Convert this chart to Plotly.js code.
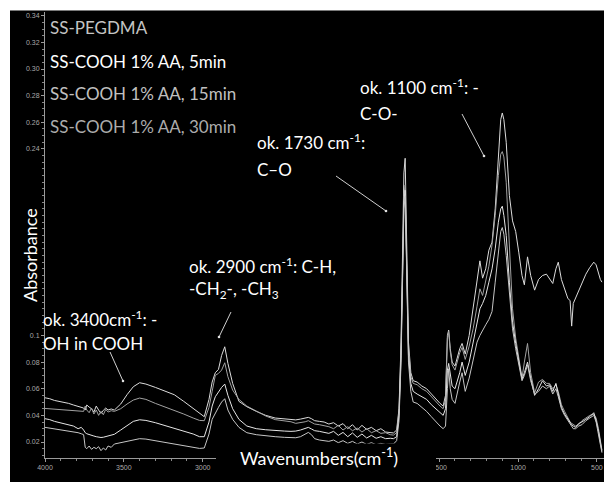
<!DOCTYPE html>
<html>
<head>
<meta charset="utf-8">
<script src="https://cdn.plot.ly/plotly-3.0.1.min.js"></script>
<style>
  html, body { margin: 0; padding: 0; background: #ffffff; width: 604px; height: 482px; overflow: hidden; }
  #topline { position: absolute; left: 10px; top: 10px; width: 594px; height: 1px; background: #7a7a7a; }
  #chart { position: absolute; left: 10px; top: 11px; width: 594px; height: 471px; background: #000; }
</style>
</head>
<body>
<div id="topline"></div>
<div id="chart"></div>
<script>
// ---------------- data ----------------
const wavenumbers = [
  4000, 3970, 3940, 3910, 3880, 3850, 3820, 3790, 3770, 3755, 3745, 3735, 3720, 3705, 3690, 3675, 3660, 3645, 3630, 3615, 3600, 3580, 3560,
  3520, 3480, 3440, 3400, 3360, 3300, 3240, 3180, 3120, 3060, 3020,
  2990, 2960, 2940, 2920, 2900, 2880, 2860, 2840, 2810, 2770, 2720, 2660, 2600, 2540, 2480, 2440,
  2410, 2380, 2350, 2330, 2310, 2290, 2260, 2230, 2200, 2170, 2140, 2110, 2080, 2050, 2020, 1990, 1960, 1930, 1900, 1870, 1840, 1810, 1790,
  1770, 1755, 1742, 1732, 1724, 1716, 1706, 1695, 1680, 1665, 1640, 1610, 1580, 1550, 1520, 1495, 1475, 1460,
  1448, 1440, 1430, 1418, 1400, 1385, 1370, 1355, 1335, 1310, 1285, 1260, 1242, 1225, 1205, 1185, 1165, 1145, 1125, 1110, 1100, 1090, 1075, 1055, 1035, 1015,
  995, 975, 960, 940, 920, 895, 870, 845, 820, 800, 780, 760, 745, 725, 705, 685, 670, 660, 650, 635, 615, 595, 570, 545, 520, 505, 490, 478, 468
];

const absPEGDMA = [
  0.0532, 0.0525, 0.0512, 0.0505, 0.0498, 0.0490, 0.0478, 0.0470, 0.0462, 0.0455, 0.0440, 0.0478, 0.0462, 0.0450, 0.0425, 0.0470, 0.0440, 0.0415, 0.0438, 0.0455, 0.0440, 0.0448, 0.0440,
  0.0485, 0.0555, 0.0615, 0.0645, 0.0635, 0.0610, 0.0585, 0.0555, 0.0505, 0.0450, 0.0412,
  0.0390, 0.0520, 0.0650, 0.0720, 0.0745, 0.0850, 0.0915, 0.0790, 0.0640, 0.0505, 0.0465, 0.0430, 0.0400, 0.0380, 0.0372, 0.0368,
  0.0366, 0.0372, 0.0378, 0.0385, 0.0375, 0.0360, 0.0355, 0.0350, 0.0335, 0.0345, 0.0320, 0.0338, 0.0300, 0.0330, 0.0290, 0.0325, 0.0295, 0.0310, 0.0285, 0.0300, 0.0275, 0.0270, 0.0268,
  0.0290, 0.0450, 0.0950, 0.1700, 0.2220, 0.2330, 0.1700, 0.0950, 0.0720, 0.0660, 0.0650, 0.0620, 0.0600, 0.0560, 0.0520, 0.0490, 0.0470, 0.0550,
  0.1000, 0.1040, 0.0900, 0.0800, 0.0770, 0.0830, 0.0900, 0.0940, 0.0860, 0.1000, 0.1200, 0.1420, 0.1560, 0.1430, 0.1500, 0.1640, 0.1700, 0.1950, 0.2380, 0.2620, 0.2670, 0.2620, 0.2450, 0.2050, 0.1860, 0.1780,
  0.1620, 0.1450, 0.1380, 0.1590, 0.1450, 0.1340, 0.1420, 0.1450, 0.1460, 0.1420, 0.1390, 0.1500, 0.1550, 0.1420, 0.1340, 0.1280, 0.1260, 0.1070, 0.1240, 0.1280, 0.1340, 0.1400, 0.1460, 0.1510, 0.1550, 0.1530, 0.1460, 0.1420, 0.1400
];

const absAA5 = [
  0.0452, 0.0450, 0.0448, 0.0445, 0.0443, 0.0440, 0.0438, 0.0435, 0.0432, 0.0430, 0.0470, 0.0440, 0.0420, 0.0455, 0.0410, 0.0440, 0.0400, 0.0430, 0.0405, 0.0445, 0.0425, 0.0435, 0.0430,
  0.0450, 0.0485, 0.0515, 0.0530, 0.0520, 0.0490, 0.0465, 0.0440, 0.0410, 0.0380, 0.0362,
  0.0360, 0.0460, 0.0580, 0.0700, 0.0715, 0.0740, 0.0795, 0.0690, 0.0590, 0.0520, 0.0470, 0.0430, 0.0395, 0.0368, 0.0358, 0.0352,
  0.0340, 0.0345, 0.0352, 0.0360, 0.0345, 0.0335, 0.0330, 0.0322, 0.0315, 0.0300, 0.0325, 0.0290, 0.0315, 0.0285, 0.0305, 0.0275, 0.0300, 0.0270, 0.0285, 0.0265, 0.0270, 0.0255, 0.0252,
  0.0270, 0.0430, 0.0900, 0.1600, 0.2050, 0.2130, 0.1600, 0.0900, 0.0690, 0.0640, 0.0630, 0.0600, 0.0580, 0.0540, 0.0500, 0.0470, 0.0450, 0.0520,
  0.0980, 0.1030, 0.0880, 0.0780, 0.0740, 0.0800, 0.0870, 0.0910, 0.0820, 0.0920, 0.1050, 0.1220, 0.1350, 0.1300, 0.1400, 0.1520, 0.1680, 0.1900, 0.2200, 0.2360, 0.2380, 0.2340, 0.2150, 0.1700, 0.1200, 0.0980,
  0.0820, 0.0680, 0.0800, 0.0940, 0.0720, 0.0570, 0.0650, 0.0670, 0.0640, 0.0640, 0.0600, 0.0630, 0.0580, 0.0480, 0.0430, 0.0380, 0.0350, 0.0340, 0.0330, 0.0320, 0.0330, 0.0360, 0.0380, 0.0400, 0.0410, 0.0380, 0.0300, 0.0220, 0.0140
];

const absAA15 = [
  0.0375, 0.0368, 0.0355, 0.0345, 0.0335, 0.0325, 0.0320, 0.0300, 0.0310, 0.0290, 0.0270, 0.0262, 0.0258, 0.0250, 0.0245, 0.0240, 0.0236, 0.0234, 0.0236, 0.0240, 0.0244, 0.0250, 0.0258,
  0.0290, 0.0325, 0.0355, 0.0367, 0.0362, 0.0345, 0.0325, 0.0305, 0.0285, 0.0260, 0.0240,
  0.0240, 0.0350, 0.0470, 0.0540, 0.0580, 0.0610, 0.0635, 0.0550, 0.0450, 0.0370, 0.0320, 0.0300, 0.0292, 0.0285, 0.0282, 0.0280,
  0.0282, 0.0290, 0.0300, 0.0310, 0.0298, 0.0285, 0.0280, 0.0275, 0.0265, 0.0280, 0.0250, 0.0272, 0.0240, 0.0268, 0.0235, 0.0260, 0.0230, 0.0250, 0.0228, 0.0240, 0.0225, 0.0228, 0.0225,
  0.0240, 0.0400, 0.0850, 0.1550, 0.2000, 0.2090, 0.1550, 0.0850, 0.0640, 0.0580, 0.0560, 0.0540, 0.0520, 0.0480, 0.0450, 0.0420, 0.0400, 0.0450,
  0.0740, 0.0790, 0.0700, 0.0620, 0.0600, 0.0660, 0.0720, 0.0800, 0.0700, 0.0800, 0.0950, 0.1100, 0.1200, 0.1240, 0.1300, 0.1400, 0.1500, 0.1650, 0.1850, 0.1950, 0.1970, 0.1900, 0.1750, 0.1400, 0.1100, 0.0940,
  0.0800, 0.0670, 0.0720, 0.0800, 0.0680, 0.0550, 0.0600, 0.0660, 0.0620, 0.0630, 0.0580, 0.0640, 0.0560, 0.0460, 0.0410, 0.0370, 0.0340, 0.0330, 0.0320, 0.0310, 0.0340, 0.0350, 0.0370, 0.0390, 0.0420, 0.0360, 0.0280, 0.0200, 0.0130
];

const absAA30 = [
  0.0310, 0.0305, 0.0300, 0.0295, 0.0290, 0.0285, 0.0278, 0.0270, 0.0262, 0.0255, 0.0160, 0.0150, 0.0170, 0.0145, 0.0160, 0.0150, 0.0165, 0.0135, 0.0155, 0.0140, 0.0170, 0.0160, 0.0185,
  0.0195, 0.0210, 0.0220, 0.0225, 0.0222, 0.0210, 0.0198, 0.0185, 0.0172, 0.0160, 0.0152,
  0.0155, 0.0260, 0.0370, 0.0420, 0.0460, 0.0500, 0.0525, 0.0440, 0.0370, 0.0310, 0.0270, 0.0255, 0.0245, 0.0240, 0.0235, 0.0232,
  0.0232, 0.0240, 0.0262, 0.0272, 0.0255, 0.0225, 0.0215, 0.0210, 0.0205, 0.0215, 0.0195, 0.0210, 0.0190, 0.0205, 0.0185, 0.0200, 0.0182, 0.0195, 0.0180, 0.0190, 0.0182, 0.0185, 0.0185,
  0.0210, 0.0360, 0.0800, 0.1500, 0.1950, 0.2050, 0.1500, 0.0800, 0.0580, 0.0500, 0.0490, 0.0460, 0.0430, 0.0390, 0.0350, 0.0320, 0.0300, 0.0320,
  0.0600, 0.0750, 0.0600, 0.0520, 0.0490, 0.0580, 0.0650, 0.0720, 0.0580, 0.0680, 0.0820, 0.0950, 0.1000, 0.1040, 0.1080, 0.1120, 0.1180, 0.1400, 0.1650, 0.1780, 0.1810, 0.1760, 0.1600, 0.1300, 0.1050, 0.0900,
  0.0780, 0.0660, 0.0700, 0.0780, 0.0660, 0.0560, 0.0580, 0.0620, 0.0600, 0.0620, 0.0560, 0.0600, 0.0540, 0.0450, 0.0400, 0.0360, 0.0330, 0.0310, 0.0300, 0.0300, 0.0320, 0.0330, 0.0360, 0.0380, 0.0400, 0.0350, 0.0270, 0.0180, 0.0120
];

const seriesNames = ['SS-PEGDMA', 'SS-COOH 1% AA, 5min', 'SS-COOH 1% AA, 15min', 'SS-COOH 1% AA, 30min'];
const xTickVals = [4000, 3500, 3000, 1500, 1000, 500];
const yTickVals = [0.34, 0.32, 0.30, 0.28, 0.26, 0.24, 0.10, 0.08, 0.06, 0.04, 0.02];
const yTickText = ['0.34', '0.32', '0.30', '0.28', '0.26', '0.24', '0.1', '0.08', '0.06', '0.04', '0.02'];
const peakNotes = [
  ['ok. 1100 cm<sup>-1</sup>: -', 'C-O-'],
  ['ok. 1730 cm<sup>-1</sup>:', 'C\u2013O'],
  ['ok. 2900 cm<sup>-1</sup>: C-H,', '-CH<sub>2</sub>-, -CH<sub>3</sub>'],
  ['ok. 3400cm<sup>-1</sup>: -', 'OH in COOH']
];

// ---------------- styling / layout ----------------
const lineColors = ['#dcdcdc', '#a2a2a2', '#e6e6e6', '#c6c6c6'];
const legendColors = ['#c4c4c4', '#ffffff', '#c0c0c0', '#acacac'];
const seriesData = [absPEGDMA, absAA5, absAA15, absAA30];

const traces = seriesData.map((ys, i) => ({
  type: 'scatter', mode: 'lines', name: seriesNames[i],
  x: wavenumbers, y: ys,
  line: { color: lineColors[i], width: 1 },
  showlegend: false, hoverinfo: 'skip'
}));

// plot area in page pixels: x 45..604, y 12..458
const PL = 45, PW = 559, PB = 458, PH = 446;
const px = v => (v - PL) / PW;
const py = v => (PB - v) / PH;

const TF = 'Lato, "Open Sans", sans-serif';
const annotations = [];

// legend-like labels
const legendY = [28, 61.5, 94, 126.5];
seriesNames.forEach((n, i) => annotations.push({
  xref: 'paper', yref: 'paper', x: px(48), y: py(legendY[i]), xanchor: 'left', yanchor: 'middle',
  text: n, showarrow: false, font: { family: TF, size: 17, color: legendColors[i] }
}));

// peak notes (each line separately)
const notePos = [
  [358, 86, 113],
  [255, 142, 169],
  [187, 265.5, 290],
  [41, 318.5, 343.5]
];
peakNotes.forEach((lines, i) => {
  lines.forEach((t, j) => annotations.push({
    xref: 'paper', yref: 'paper', x: px(notePos[i][0]), y: py(notePos[i][j + 1]),
    xanchor: 'left', yanchor: 'middle', text: t, showarrow: false,
    font: { family: TF, size: 17, color: '#ffffff' }
  }));
});

// axis titles
annotations.push({
  xref: 'paper', yref: 'paper', x: px(318.5), y: py(457), xanchor: 'center', yanchor: 'middle',
  text: 'Wavenumbers(cm<sup>-1</sup>)', showarrow: false, bgcolor: '#000000',
  font: { family: TF, size: 18, color: '#ffffff' }
});
annotations.push({
  xref: 'paper', yref: 'paper', x: px(30), y: py(255), xanchor: 'center', yanchor: 'middle',
  text: 'Absorbance', textangle: -90, showarrow: false,
  font: { family: TF, size: 18, color: '#ffffff' }
});

// pointer lines [tipX, tipY, tailX, tailY] in page pixels, with a small dot at the tip
const pointers = [
  [484, 156, 462, 114],
  [386, 211, 336, 176],
  [219, 337, 231, 312],
  [123, 381, 110, 352]
];
const shapes = [
  { type: 'rect', xref: 'paper', yref: 'paper', layer: 'above',
    x0: px(216), x1: px(436), y0: py(482), y1: py(449),
    fillcolor: '#000000', line: { width: 0 } }
];
pointers.forEach(p => {
  shapes.push({ type: 'line', xref: 'paper', yref: 'paper', layer: 'above',
    x0: px(p[2]), y0: py(p[3]), x1: px(p[0]), y1: py(p[1]),
    line: { color: '#d0d0d0', width: 1 } });
  shapes.push({ type: 'circle', xref: 'paper', yref: 'paper', layer: 'above',
    x0: px(p[0] - 1.3), x1: px(p[0] + 1.3), y0: py(p[1] + 1.3), y1: py(p[1] - 1.3),
    fillcolor: '#e0e0e0', line: { width: 0 } });
});

const layout = {
  width: 594, height: 471,
  margin: { l: 35, r: 0, t: 1, b: 24, pad: 0 },
  paper_bgcolor: '#000000', plot_bgcolor: '#000000',
  showlegend: false,
  xaxis: {
    range: [4000, 455], showgrid: false, zeroline: false,
    showline: true, linecolor: '#9a9a9a', linewidth: 1,
    tickvals: xTickVals, ticks: 'outside', ticklen: 3, tickcolor: '#9a9a9a',
    tickfont: { family: '"Liberation Sans Narrow", "Liberation Sans", sans-serif', size: 7, color: '#a8a8a8' },
    minor: { ticks: 'outside', dtick: 100, ticklen: 2, tickcolor: '#888888' }
  },
  yaxis: {
    range: [0.008, 0.3428], showgrid: false, zeroline: false,
    showline: true, linecolor: '#9a9a9a', linewidth: 1,
    tickvals: yTickVals, ticktext: yTickText, ticks: 'outside', ticklen: 3, tickcolor: '#9a9a9a',
    tickfont: { family: '"Liberation Sans Narrow", "Liberation Sans", sans-serif', size: 7, color: '#a8a8a8' },
    minor: { ticks: 'outside', dtick: 0.005, ticklen: 2, tickcolor: '#888888' }
  },
  shapes: shapes,
  annotations: annotations
};

Plotly.newPlot('chart', traces, layout, { staticPlot: true, displayModeBar: false });
</script>
</body>
</html>
